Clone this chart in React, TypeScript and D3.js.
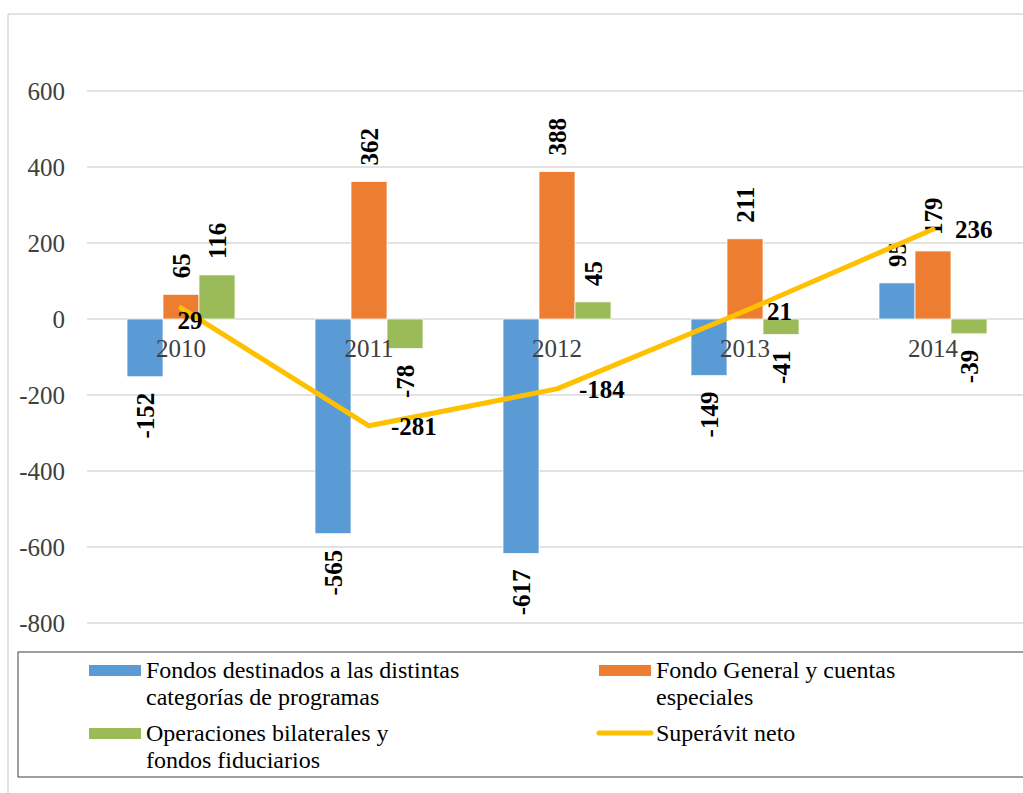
import React from "react";
import * as d3 from "d3";

const years = ["2010", "2011", "2012", "2013", "2014"];
const fondosProgramas = [-152, -565, -617, -149, 95];
const fondoGeneral = [65, 362, 388, 211, 179];
const operacionesBilaterales = [116, -78, 45, -41, -39];
const superavitNeto = [29, -281, -184, 21, 236];
const yTicks = [-800, -600, -400, -200, 0, 200, 400, 600];
const lineLabelPlacement = ["below", "right", "right", "right", "right"];

const seriesNames = [
  ["Fondos destinados a las distintas", "categorías de programas"],
  ["Fondo General y cuentas", "especiales"],
  ["Operaciones bilaterales y", "fondos fiduciarios"],
  ["Superávit neto"],
];

const W = 1023;
const H = 793;
const FONT = "Liberation Serif";
const colors = ["#5B9BD5", "#ED7D31", "#9BBB59", "#FFC000"];

export default function App() {
  const barSeries = [fondosProgramas, fondoGeneral, operacionesBilaterales];
  const y = d3.scaleLinear().domain([-800, 600]).range([623, 91]);
  const p = 80 / 188;
  const x0 = d3
    .scaleBand<string>()
    .domain(years)
    .range([87, 1027])
    .paddingInner(p)
    .paddingOuter(p / 2);
  const x1 = d3
    .scaleBand<number>()
    .domain([0, 1, 2])
    .range([0, x0.bandwidth()])
    .padding(0);
  const cx = (yr: string) => (x0(yr) as number) + x0.bandwidth() / 2;

  const lineGen = d3
    .line<number>()
    .x((_, i) => cx(years[i]))
    .y((v) => y(v));

  return (
    <svg
      width={W}
      height={H}
      style={{ position: "absolute", left: 0, top: 0, background: "#fff", fontFamily: FONT }}
    >
      <rect x={0} y={0} width={W} height={H} fill="#fff" />
      {/* outer frame */}
      <line x1={8} y1={14} x2={W} y2={14} stroke="#d9d9d9" strokeWidth={1.5} />
      <line x1={8} y1={14} x2={8} y2={H} stroke="#d9d9d9" strokeWidth={1.5} />

      {/* gridlines + y labels */}
      {yTicks.map((t) => (
        <g key={t}>
          <line x1={87} x2={W} y1={y(t)} y2={y(t)} stroke="#d9d9d9" strokeWidth={1.5} />
          <text
            x={65}
            y={y(t)}
            dy="0.35em"
            textAnchor="end"
            fontSize={25}
            fill="#404040"
            style={{ fontFamily: FONT }}
          >
            {t}
          </text>
        </g>
      ))}

      {/* bars */}
      {barSeries.map((vals, si) =>
        vals.map((v, i) => {
          const bx = (x0(years[i]) as number) + (x1(si) as number);
          const bw = x1.bandwidth();
          return (
            <rect
              key={`b${si}-${i}`}
              x={bx}
              y={Math.min(y(v), y(0))}
              width={bw}
              height={Math.abs(y(v) - y(0))}
              fill={colors[si]}
              stroke="#fff"
              strokeWidth={0.75}
            />
          );
        })
      )}

      {/* category labels */}
      {years.map((yr) => (
        <text
          key={yr}
          x={cx(yr)}
          y={357}
          textAnchor="middle"
          fontSize={25}
          fill="#404040"
          style={{ fontFamily: FONT }}
        >
          {yr}
        </text>
      ))}

      {/* bar value labels */}
      {barSeries.map((vals, si) =>
        vals.map((v, i) => {
          const bcx = (x0(years[i]) as number) + (x1(si) as number) + x1.bandwidth() / 2;
          const py = v >= 0 ? y(v) - 16 : y(v) + 16;
          return (
            <text
              key={`l${si}-${i}`}
              transform={`translate(${bcx},${py}) rotate(-90)`}
              textAnchor={v >= 0 ? "start" : "end"}
              dy="0.35em"
              fontSize={25}
              fontWeight="bold"
              fill="#000"
              style={{ fontFamily: FONT }}
            >
              {v}
            </text>
          );
        })
      )}

      {/* line */}
      <path
        d={lineGen(superavitNeto) || ""}
        fill="none"
        stroke={colors[3]}
        strokeWidth={5}
        strokeLinejoin="round"
        strokeLinecap="round"
      />
      {superavitNeto.map((v, i) => {
        const px = cx(years[i]);
        const py = y(v);
        const below = lineLabelPlacement[i] === "below";
        return (
          <text
            key={`s${i}`}
            x={below ? px + 9 : px + 22}
            y={below ? py + 21 : py}
            dy={below ? 0 : "0.35em"}
            textAnchor={below ? "middle" : "start"}
            fontSize={25}
            fontWeight="bold"
            fill="#000"
            style={{ fontFamily: FONT }}
          >
            {v}
          </text>
        );
      })}

      {/* legend */}
      <rect x={18} y={652} width={W} height={125} fill="none" stroke="#404040" strokeWidth={1} />
      {seriesNames.map((lines, k) => {
        const col = k % 2;
        const row = Math.floor(k / 2);
        const sx = col === 0 ? 89 : 599;
        const baseY = 678 + row * 63;
        return (
          <g key={`lg${k}`}>
            {k < 3 ? (
              <rect x={sx} y={baseY - 13} width={52} height={11} fill={colors[k]} />
            ) : (
              <line
                x1={sx}
                x2={sx + 52}
                y1={baseY - 8}
                y2={baseY - 8}
                stroke={colors[3]}
                strokeWidth={5}
                strokeLinecap="round"
              />
            )}
            <text x={sx + 57} y={baseY} fontSize={24} fill="#000" style={{ fontFamily: FONT }}>
              {lines.map((ln, j) => (
                <tspan key={j} x={sx + 57} y={baseY + j * 27}>
                  {ln}
                </tspan>
              ))}
            </text>
          </g>
        );
      })}
    </svg>
  );
}
